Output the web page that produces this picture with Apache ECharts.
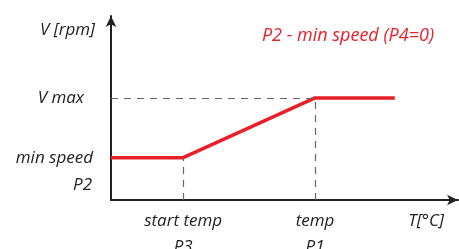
<!DOCTYPE html>
<html>
<head>
<meta charset="utf-8">
<script src="https://cdn.jsdelivr.net/npm/echarts@6/dist/echarts.min.js"></script>
<style>
  html, body { margin: 0; padding: 0; background: #fff; }
  #chart { width: 459px; height: 249px; }
</style>
</head>
<body>
<div id="chart"></div>
<script>
// curve points (schematic units 0-100)
var tempX = [0, 20.8, 58.8, 81.8];
var speedY = [23, 23, 55.5, 55.5];

// reference points
var startTemp = 20.8; // P3
var tempP1 = 58.8;    // P1
var minSpeed = 23;    // P2
var vMax = 55.5;

// tick labels
var xTickValues = [20.8, 58.8, 90.8];
var xTickLabels = ['start temp\nP3', 'temp\nP1', 'T[°C]'];
var yTickValues = [8.2, 23, 55.5, 92.3];
var yTickLabels = ['P2', 'min speed', 'V max', 'V [rpm]'];
var yLabelPad = [19, 18, 27, 16];

var title = 'P2 - min speed (P4=0)';

var chart = echarts.init(document.getElementById('chart'));

var font = '"Open Sans", sans-serif';

function labelStyle(pad) {
  return { padding: [0, pad, 0, 0], fontFamily: font, fontStyle: 'italic', fontSize: 17, color: '#222' };
}

var option = {
  animation: false,
  title: {
    text: title,
    right: 20,
    top: 22,
    textStyle: {
      color: '#e8202a',
      fontFamily: font,
      fontStyle: 'italic',
      fontWeight: 'normal',
      fontSize: 18
    }
  },
  grid: { left: 111, right: 1, top: 16, bottom: 49, outerBoundsMode: 'none', containLabel: false },
  xAxis: {
    type: 'value',
    min: 0,
    max: 100,
    splitLine: { show: false },
    axisTick: { show: false },
    axisLine: {
      symbol: ['none', 'arrow'],
      symbolSize: [8, 11],
      lineStyle: { color: '#222', width: 2 }
    },
    axisLabel: {
      customValues: xTickValues,
      formatter: function (v) {
        return xTickLabels[xTickValues.indexOf(v)];
      },
      margin: 8,
      verticalAlign: 'top',
      lineHeight: 26,
      color: '#222',
      fontFamily: font,
      fontStyle: 'italic',
      fontSize: 17
    }
  },
  yAxis: {
    type: 'value',
    min: 0,
    max: 100,
    splitLine: { show: false },
    axisTick: { show: false },
    axisLine: {
      symbol: ['none', 'arrow'],
      symbolSize: [8, 11],
      lineStyle: { color: '#222', width: 2 }
    },
    axisLabel: {
      customValues: yTickValues,
      formatter: function (v) {
        var i = yTickValues.indexOf(v);
        return '{p' + i + '|' + yTickLabels[i] + '}';
      },
      margin: 0,
      color: '#222',
      fontFamily: font,
      fontStyle: 'italic',
      fontSize: 17,
      rich: {
        p0: labelStyle(yLabelPad[0]),
        p1: labelStyle(yLabelPad[1]),
        p2: labelStyle(yLabelPad[2]),
        p3: labelStyle(yLabelPad[3])
      }
    }
  },
  series: [{
    type: 'line',
    data: tempX.map(function (x, i) { return [x, speedY[i]]; }),
    symbol: 'none',
    lineStyle: { color: '#e8202a', width: 3.5 },
    markLine: {
      silent: true,
      symbol: 'none',
      label: { show: false },
      lineStyle: { color: '#666', type: [7, 6], width: 1.2 },
      data: [
        [{ coord: [0, vMax] }, { coord: [tempP1, vMax] }],
        [{ coord: [startTemp, 0] }, { coord: [startTemp, minSpeed] }],
        [{ coord: [tempP1, 0] }, { coord: [tempP1, vMax] }]
      ]
    },
    z: 3
  }]
};

chart.setOption(option);
</script>
</body>
</html>
